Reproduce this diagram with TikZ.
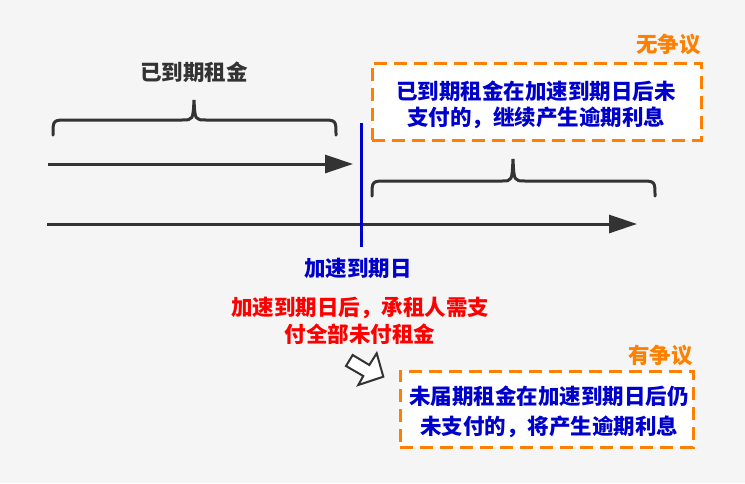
\documentclass[tikz,border=0pt]{standalone}
\usepackage{fontspec}
\setmainfont{Noto Sans CJK SC}
\usetikzlibrary{arrows.meta, positioning}
\definecolor{tbg}{HTML}{F5F5F5}
\definecolor{tdark}{HTML}{333333}
\definecolor{tblue}{HTML}{0000CC}
\definecolor{torange}{HTML}{FF8000}
\definecolor{tred}{HTML}{FF0000}

\begin{document}
\begin{tikzpicture}[x=1pt, y=-1pt,
  timeline/.style={tdark, line width=3pt, -{Triangle[length=28pt, width=18pt]}},
  curly/.style={tdark, line width=3pt, line cap=round},
  label/.style={font=\fontsize{21.5}{26}\selectfont\bfseries, inner sep=0pt, align=center},
  dashbox/.style={draw=torange, fill=white, line width=3pt, dash pattern=on 13pt off 7pt, inner sep=0pt},
]

  %% background
  \fill[tbg] (0,0) rectangle (745,483);
  \useasboundingbox (0,0) rectangle (745,483);

  %% time lines
  \coordinate (dueA) at (48,164);
  \coordinate (dueB) at (353,164);
  \coordinate (allA) at (47,224);
  \coordinate (allB) at (637,224);
  \draw[timeline] (dueA) -- (dueB);
  \draw[timeline] (allA) -- (allB);

  %% acceleration date
  \coordinate (accTop) at (361,123);
  \coordinate (accBot) at (361,247);
  \draw[tblue, line width=3pt] (accTop) -- (accBot);
  \node[label, text=tblue] (acc) at (358,268) {加速到期日};

  %% braces
  \draw[curly] (53,135) .. controls (53,120) .. (68,120) -- (182,120)
    .. controls (193,120) .. (194,100) .. controls (195,120) .. (206,120)
    -- (321,120) .. controls (336,120) .. (336,135);
  \draw[curly] (372,196) .. controls (372,181) .. (387,181) -- (502,181)
    .. controls (512,181) .. (513,159) .. controls (514,181) .. (525,181)
    -- (640,181) .. controls (655,181) .. (655,196);
  \node[label, text=tdark] (due) at (194,72) {已到期租金};

  %% undisputed box
  \node[dashbox, minimum width=329pt, minimum height=77pt] (box1) at (536.5,101.5) {};
  \node[label, text=tblue] (txt1) at (536,105) {已到期租金在加速到期日后未\\支付的，继续产生逾期利息};
  \node[label, text=torange, anchor=east] (tag1) at (701,44) {无争议};

  %% red note
  \node[label, text=tred, font=\fontsize{21.5}{27}\selectfont\bfseries] (note) at (360,321)
    {加速到期日后，承租人需支\\付全部未付租金};

  %% block arrow
  \draw[tdark, line width=2pt, fill=white, line join=miter]
    (346,366) -- (352.7,355) -- (369.3,365) -- (376.7,353.3)
    -- (383.3,376.7) -- (358.3,385) -- (363.3,376) -- cycle;

  %% disputed box
  \node[dashbox, minimum width=293pt, minimum height=76pt] (box2) at (546.5,409) {};
  \node[label, text=tblue, font=\fontsize{21.5}{30}\selectfont\bfseries] (txt2) at (549,412)
    {未届期租金在加速到期日后仍\\未支付的，将产生逾期利息};
  \node[label, text=torange, anchor=east] (tag2) at (693,355) {有争议};

\end{tikzpicture}
\end{document}
